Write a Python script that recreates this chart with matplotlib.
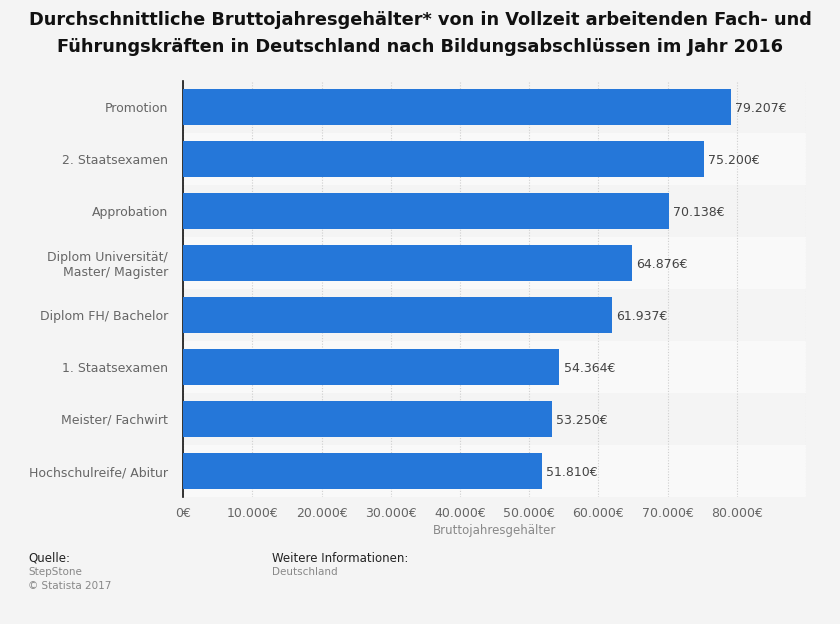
import matplotlib
matplotlib.use("Agg")
import matplotlib.pyplot as plt

# Daten
kategorien = ["Promotion", "2. Staatsexamen", "Approbation",
              "Diplom Universität/\nMaster/ Magister", "Diplom FH/ Bachelor",
              "1. Staatsexamen", "Meister/ Fachwirt", "Hochschulreife/ Abitur"]
gehalt = [79207, 75200, 70138, 64876, 61937, 54364, 53250, 51810]
ticks = [0, 10000, 20000, 30000, 40000, 50000, 60000, 70000, 80000]


def euro(v):
    return f"{v:,}".replace(",", ".") + "€"


BG = "#f4f4f4"
BLAU = "#2577d9"

fig = plt.figure(figsize=(8.4, 6.24), dpi=100, facecolor=BG)
ax = fig.add_axes([0.218, 0.2035, 0.7415, 0.667])
ax.set_facecolor(BG)

n = len(kategorien)
pos = list(range(n))

# Streifen im Hintergrund
for i in pos:
    if i % 2 == 1:
        ax.axhspan(i - 0.5, i + 0.5, color="#f9f9f9", zorder=0, lw=0)

# Gitterlinien
for t in ticks + [90000]:
    ax.axvline(t, color="#cfcfcf", lw=0.8, ls=(0, (1, 1.5)), zorder=1)

ax.barh(pos, gehalt, height=0.7, color=BLAU, zorder=3)
for p, v in zip(pos, gehalt):
    ax.text(v + 600, p + 0.03, euro(v), va="center", ha="left", fontsize=9,
            color="#444444", zorder=4)

ax.set_ylim(n - 0.5, -0.5)
ax.set_xlim(0, 90000)
ax.set_yticks(pos)
ax.set_yticklabels(kategorien, fontsize=9, color="#666666")
ax.tick_params(axis="y", length=0, pad=11)
ax.set_xticks(ticks)
ax.set_xticklabels([euro(t) for t in ticks], fontsize=9, color="#666666")
ax.tick_params(axis="x", length=0, pad=7)
for s in ["top", "right", "bottom"]:
    ax.spines[s].set_visible(False)
ax.spines["left"].set_color("#111111")
ax.spines["left"].set_linewidth(1.2)
ax.set_xlabel("Bruttojahresgehälter", fontsize=8.5, color="#888888", labelpad=3)

fig.text(0.5, 0.982,
         "Durchschnittliche Bruttojahresgehälter* von in Vollzeit arbeitenden Fach- und\n"
         "Führungskräften in Deutschland nach Bildungsabschlüssen im Jahr 2016",
         ha="center", va="top", fontsize=12.8, fontweight="bold", color="#111111",
         linespacing=1.6)

# Fußzeile
fig.text(28 / 840, 1 - 558 / 624, "Quelle:", fontsize=8.5, color="#222222", va="center")
fig.text(28 / 840, 1 - 572 / 624, "StepStone", fontsize=7.5, color="#888888", va="center")
fig.text(28 / 840, 1 - 586 / 624, "© Statista 2017", fontsize=7.5, color="#888888", va="center")
fig.text(272 / 840, 1 - 558 / 624, "Weitere Informationen:", fontsize=8.5, color="#222222", va="center")
fig.text(272 / 840, 1 - 572 / 624, "Deutschland", fontsize=7.5, color="#888888", va="center")

fig.savefig("out.png", dpi=100, facecolor=BG)
